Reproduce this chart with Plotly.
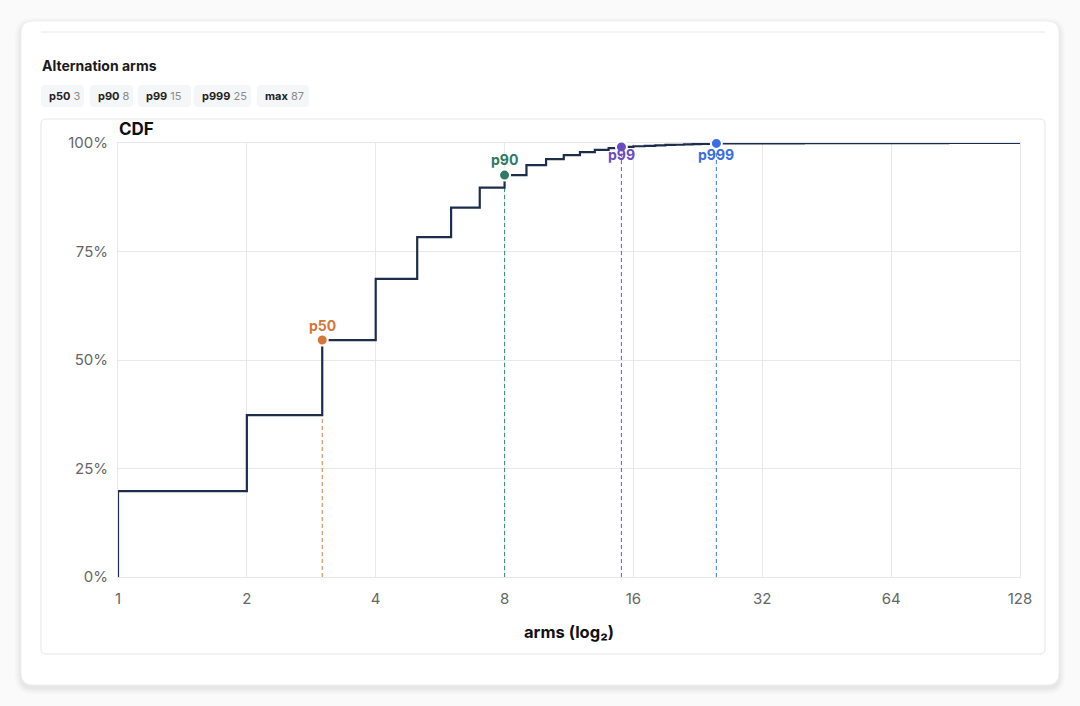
import math
import plotly.graph_objects as go

W, H = 1080, 706

# CDF of alternation arms
arms = [1, 2, 3, 4, 5, 6, 7, 8, 9, 10, 11, 12, 13, 14, 15,
        16, 17, 18, 19, 20, 21, 22, 23, 24, 25, 30, 40, 50, 87]
cdf = [0.198, 0.373, 0.546, 0.687, 0.783, 0.851, 0.897, 0.926, 0.949, 0.963,
       0.972, 0.979, 0.984, 0.988, 0.991,
       0.9925, 0.9935, 0.9945, 0.9955, 0.996, 0.9967, 0.9973, 0.9978, 0.9984, 0.999,
       0.9993, 0.9996, 0.9998, 1.0]

pct_names = ["p50", "p90", "p99", "p999"]
pct_values = [3, 8, 15, 25]
pct_colors = ["#d4773a", "#2f7a64", "#6a4cc2", "#3a6ee4"]
pct_label_shift = [15, 16, -8, -11]  # px offset of the label from its marker
max_value = 87

x_ticks = [1, 2, 4, 8, 16, 32, 64, 128]
y_ticks = [0, 0.25, 0.5, 0.75, 1.0]
y_ticklabels = ["0%", "25%", "50%", "75%", "100%"]

NAVY = "#1f2d4d"
GRID = "#e6e8ec"
FONT = "Inter"


def px(x):
    return x / W


def py(y):
    return 1 - y / H


def rounded_rect(x0, y0, x1, y1, r):
    # svg path in paper fractions, rounded corners via quadratic curves
    pts = [
        ("M", x0 + r, y0), ("L", x1 - r, y0), ("Q", x1, y0, x1, y0 + r),
        ("L", x1, y1 - r), ("Q", x1, y1, x1 - r, y1), ("L", x0 + r, y1),
        ("Q", x0, y1, x0, y1 - r), ("L", x0, y0 + r), ("Q", x0, y0, x0 + r, y0),
    ]
    out = []
    for p in pts:
        if p[0] == "Q":
            out.append(f"Q{px(p[1]):.5f},{py(p[2]):.5f} {px(p[3]):.5f},{py(p[4]):.5f}")
        else:
            out.append(f"{p[0]}{px(p[1]):.5f},{py(p[2]):.5f}")
    return " ".join(out) + " Z"


fig = go.Figure()

# dashed percentile drop lines
for name, v, c in zip(pct_names, pct_values, pct_colors):
    yv = cdf[arms.index(v)]
    fig.add_trace(go.Scatter(
        x=[v, v], y=[0, yv], mode="lines", opacity=0.85,
        line=dict(color=c, width=1.1, dash="4px,3px"),
        hoverinfo="skip", showlegend=False))

# the step CDF
fig.add_trace(go.Scatter(
    x=[1] + arms + [x_ticks[-1]], y=[0] + cdf + [1.0],
    mode="lines", line=dict(color=NAVY, width=2.2, shape="hv"),
    showlegend=False, cliponaxis=False))

# percentile markers
annotations = []
for name, v, c, shift in zip(pct_names, pct_values, pct_colors, pct_label_shift):
    yv = cdf[arms.index(v)]
    fig.add_trace(go.Scatter(
        x=[v], y=[yv], mode="markers",
        marker=dict(color=c, size=11, line=dict(color="white", width=2)),
        showlegend=False, cliponaxis=False))
    annotations.append(dict(
        xref="x", yref="y", x=math.log10(v), y=yv, yshift=shift,
        xanchor="center", yanchor="middle", showarrow=False, text=f"<b>{name}</b>",
        font=dict(color=c, size=14, family=FONT)))

shapes = []
# card shadow
for i, op in enumerate([0.015, 0.015, 0.02, 0.025]):
    g = 6 - i * 1.5
    shapes.append(dict(type="path", xref="paper", yref="paper", layer="below",
                       path=rounded_rect(21 - g, 21 - g + 3, 1059 + g, 685 + g + 3, 12 + g),
                       fillcolor=f"rgba(0,0,0,{op})", line=dict(width=0)))
shapes.append(dict(type="path", xref="paper", yref="paper", layer="below",
                   path=rounded_rect(21, 21, 1059, 685, 12),
                   fillcolor="white", line=dict(color="#efefef", width=1)))
shapes.append(dict(type="line", xref="paper", yref="paper", layer="below",
                   x0=px(41), x1=px(1045), y0=py(32), y1=py(32),
                   line=dict(color="#e8e8e8", width=1)))
shapes.append(dict(type="path", xref="paper", yref="paper", layer="below",
                   path=rounded_rect(41, 119, 1045, 654, 5),
                   fillcolor="white", line=dict(color="#e6e6e6", width=1)))

# stat pills
pill_labels = pct_names + ["max"]
pill_values = pct_values + [max_value]
pill_x = [(41, 84), (90, 133), (138, 191), (194, 251), (257, 309)]
for (x0, x1), lab, val in zip(pill_x, pill_labels, pill_values):
    shapes.append(dict(type="path", xref="paper", yref="paper", layer="below",
                       path=rounded_rect(x0, 85, x1, 107, 4),
                       fillcolor="#f5f6f8", line=dict(width=0)))
    annotations.append(dict(
        xref="paper", yref="paper", x=px(x0 + 6), y=py(96), xanchor="left", yanchor="middle",
        text=f"<b>{lab}</b> <span style='color:#8a8a8a'>{val}</span>",
        showarrow=False, font=dict(size=11, color="#222", family=FONT)))

annotations += [
    dict(xref="paper", yref="paper", x=px(40), y=py(66), xanchor="left", yanchor="middle",
         text="<b>Alternation arms</b>", showarrow=False,
         font=dict(size=14, color="#1a1a1a", family=FONT)),
    dict(xref="paper", yref="paper", x=px(117), y=py(129), xanchor="left", yanchor="middle",
         text="<b>CDF</b>", showarrow=False,
         font=dict(size=17, color="#111", family=FONT)),
    dict(xref="paper", yref="paper", x=px(569), y=py(632), xanchor="center", yanchor="middle",
         text="<b>arms (log₂)</b>", showarrow=False,
         font=dict(size=16.5, color="#111", family=FONT)),
]

fig.update_layout(
    width=W, height=H, autosize=False,
    margin=dict(l=0, r=0, t=0, b=0, pad=0),
    paper_bgcolor="#fafafa", plot_bgcolor="rgba(0,0,0,0)",
    font=dict(family=FONT, color="#666"),
    shapes=shapes, annotations=annotations,
    xaxis=dict(type="log", range=[0, 7 * 0.30103], domain=[px(118), px(1020)],
               tickvals=x_ticks, ticktext=[str(t) for t in x_ticks], automargin=False,
               showgrid=True, gridcolor=GRID, gridwidth=1, layer="below traces",
               showline=True, mirror=True, linecolor=GRID, zeroline=False,
               ticks="outside", ticklen=8, tickcolor="rgba(0,0,0,0)",
               tickfont=dict(size=15, color="#666", family=FONT)),
    yaxis=dict(range=[0, 1], domain=[py(577), py(143)],
               tickvals=y_ticks, ticktext=y_ticklabels, automargin=False,
               showgrid=True, gridcolor=GRID, gridwidth=1, layer="below traces",
               showline=True, mirror=True, linecolor=GRID, zeroline=False,
               ticks="outside", ticklen=6, tickcolor="rgba(0,0,0,0)",
               tickfont=dict(size=15, color="#666", family=FONT)),
)

fig.write_html(
    "out.html",
    config={"displayModeBar": False},
    post_script=(
        "document.body.style.margin='0';"
        "document.body.style.overflow='hidden';"
        "document.documentElement.style.overflow='hidden';"
    ),
)
